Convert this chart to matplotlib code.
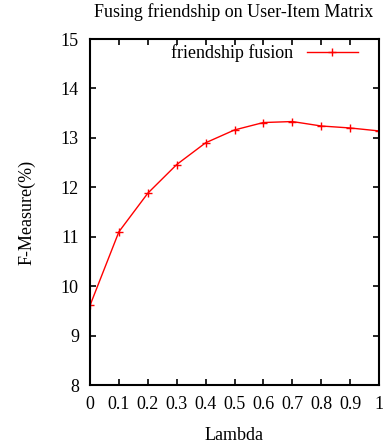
import matplotlib
matplotlib.use("Agg")
import matplotlib.pyplot as plt

# lambda values and measured F-measure
lambdas = [0.0, 0.1, 0.2, 0.3, 0.4, 0.5, 0.6, 0.7, 0.8, 0.9, 1.0]
fmeasure = [9.61, 11.10, 11.88, 12.46, 12.90, 13.16, 13.31, 13.33, 13.24, 13.20, 13.14]
xticks = [0, 0.1, 0.2, 0.3, 0.4, 0.5, 0.6, 0.7, 0.8, 0.9, 1]
xticklabels = ["0", "0.1", "0.2", "0.3", "0.4", "0.5", "0.6", "0.7", "0.8", "0.9", "1"]
yticks = [8, 9, 10, 11, 12, 13, 14, 15]

plt.rcParams['font.family'] = ['Liberation Serif', 'DejaVu Serif']
plt.rcParams['font.size'] = 13

fig = plt.figure(figsize=(3.89, 4.48), dpi=100)
ax = fig.add_axes([90/389, 1 - 385/448, 289/389, 346/448])

ax.plot(lambdas, fmeasure, color='red', lw=1, marker='+', ms=6, mew=1,
        label='friendship fusion')

ax.set_xlim(0, 1)
ax.set_ylim(8, 15)
ax.set_xticks(xticks)
ax.set_xticklabels(xticklabels)
ax.set_yticks(yticks)
ax.tick_params(direction='in', top=True, right=True, length=4.5, width=1.2)
ax.tick_params(axis='x', pad=8)
ax.tick_params(axis='y', pad=8)
for s in ax.spines.values():
    s.set_linewidth(1.5)

ax.set_xlabel('Lambda', labelpad=10)
ax.set_ylabel('F-Measure(%)', labelpad=18)
fig.text(0.6, 0.972, 'Fusing friendship on User-Item Matrix', ha='center', va='center')

ax.legend(loc='upper right', frameon=False, markerfirst=False, handlelength=2.8,
          borderaxespad=0.1, borderpad=0.2, handletextpad=0.8,
          bbox_to_anchor=(0.945, 1.0))

fig.savefig('out.png', dpi=100)
